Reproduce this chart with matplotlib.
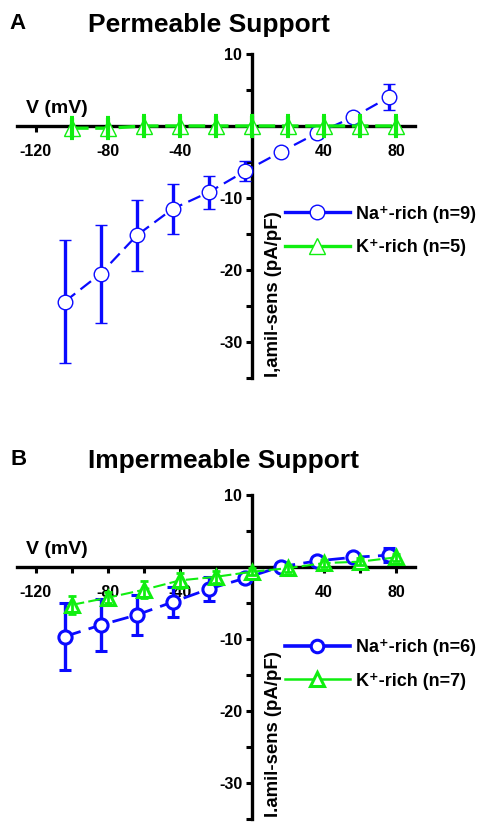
import matplotlib

matplotlib.use("Agg")
import matplotlib.pyplot as plt
from matplotlib.lines import Line2D
from matplotlib.ticker import FixedLocator, NullFormatter

plt.rcParams["font.family"] = ["Liberation Sans", "DejaVu Sans"]
plt.rcParams["font.weight"] = "bold"
plt.rcParams["axes.unicode_minus"] = False

BLUE = "#0a0aff"
GREEN = "#10ee10"

# voltages (Na+ points are drawn 4 mV left of the K+ points)
v_na = [-104, -84, -64, -44, -24, -4, 16, 36, 56, 76]
v_k = [-100, -80, -60, -40, -20, 0, 20, 40, 60, 80]

# panel A: permeable support
a_na = [-24.4, -20.5, -15.2, -11.5, -9.2, -6.3, -3.6, -1.0, 1.2, 4.0]
a_na_err = [8.5, 6.8, 4.9, 3.5, 2.3, 1.4, 0.6, 0.6, 0.6, 1.8]
a_k = [-0.3, -0.3, 0.0, 0.0, 0.0, 0.0, 0.0, 0.0, 0.0, 0.0]
a_k_err = [1.4, 1.4, 1.4, 1.4, 1.4, 1.4, 1.4, 1.4, 1.4, 1.4]

# panel B: impermeable support
b_na = [-9.7, -8.1, -6.7, -4.9, -3.1, -1.6, 0.0, 0.8, 1.3, 1.6]
b_na_err = [4.6, 3.6, 2.8, 2.1, 1.7, 0.5, 0.5, 0.5, 0.5, 1.0]
b_k = [-5.3, -4.3, -3.2, -1.9, -1.4, -0.7, -0.2, 0.5, 0.7, 1.3]
b_k_err = [1.3, 0.8, 1.2, 1.0, 0.8, 0.5, 0.5, 0.5, 0.5, 0.5]

fig = plt.figure(figsize=(4.89, 8.30), dpi=100)


def style_axes(ax, ylabel):
    ax.set_xlim(-130.5, 90.5)
    ax.set_ylim(-35, 10)
    for s in ("top", "right"):
        ax.spines[s].set_visible(False)
    ax.spines["left"].set_position(("data", 0))
    ax.spines["bottom"].set_position(("data", 0))
    for s in ("left", "bottom"):
        ax.spines[s].set_linewidth(2.4)
    ax.xaxis.set_major_locator(FixedLocator([-120, -80, -40, 40, 80]))
    ax.xaxis.set_minor_locator(FixedLocator([-100, -60, -20, 20, 60]))
    ax.yaxis.set_major_locator(FixedLocator([10, -10, -20, -30]))
    ax.yaxis.set_minor_locator(FixedLocator([5, -5, -15, -25, -35]))
    ax.xaxis.set_minor_formatter(NullFormatter())
    ax.yaxis.set_minor_formatter(NullFormatter())
    ax.tick_params(which="both", direction="out", width=2.2, length=4,
                   labelsize=11.5)
    ax.tick_params(axis="x", pad=9)
    ax.tick_params(axis="y", pad=3)
    for lab in ax.get_xticklabels() + ax.get_yticklabels():
        lab.set_fontweight("bold")
    ax.text(-125.5, 1.8, "V (mV)", fontsize=14, fontweight="bold",
            ha="left", va="baseline")
    ax.text(12.0, -23.3, ylabel, fontsize=13.4, fontweight="bold",
            rotation=90, ha="center", va="center")


def add_legend(ax, handles, labels, y):
    leg = ax.legend(handles, labels, loc="center left",
                    bbox_to_anchor=(0.673, y), frameon=False, fontsize=13,
                    handlelength=3.6, handletextpad=0.35, labelspacing=0.9,
                    borderaxespad=0, borderpad=0)
    for t in leg.get_texts():
        t.set_fontweight("bold")


# ---- panel A ----
axA = fig.add_axes([17 / 489, 1 - 378 / 830, 398 / 489, 324 / 830])
style_axes(axA, "I,amil-sens (pA/pF)")
axA.errorbar(v_na, a_na, yerr=a_na_err, color=BLUE, lw=1.6, ls=(0, (6, 3)),
             marker="o", ms=10.5, mfc="white", mec=BLUE, mew=1.0,
             ecolor=BLUE, elinewidth=2.4, capsize=4, capthick=2.4, zorder=3)
axA.plot(v_k, a_k, color=GREEN, lw=2.4, ls=(0, (5, 2)), marker="^", ms=11,
         mfc="white", mec=GREEN, mew=1.0, zorder=4)
axA.errorbar(v_k, a_k, yerr=a_k_err, fmt="none", ecolor=GREEN,
             elinewidth=3.0, capsize=1.5, capthick=3.0, zorder=5)
hA = [Line2D([], [], color=BLUE, lw=2.4, marker="o", ms=10.5, mfc="white",
             mec=BLUE, mew=1.0),
      Line2D([], [], color=GREEN, lw=2.4, marker="^", ms=11, mfc="white",
             mec=GREEN, mew=1.0)]
add_legend(axA, hA, ["Na⁺-rich (n=9)", "K⁺-rich (n=5)"], 0.454)
fig.text(9 / 489, 1 - 29 / 830, "A", fontsize=16, fontweight="bold",
         ha="left", va="baseline")
fig.text(88 / 489, 1 - 32 / 830, "Permeable Support", fontsize=19,
         fontweight="bold", ha="left", va="baseline")

# ---- panel B ----
axB = fig.add_axes([17 / 489, 1 - 818.7 / 830, 398 / 489, 324 / 830])
style_axes(axB, "I.amil-sens (pA/pF)")
axB.errorbar(v_na, b_na, yerr=b_na_err, color=BLUE, lw=2.0, ls=(0, (6, 3)),
             marker="o", ms=9.5, mfc="white", mec=BLUE, mew=2.2,
             ecolor=BLUE, elinewidth=2.4, capsize=4, capthick=2.4, zorder=3)
axB.plot(v_k, b_k, color=GREEN, lw=1.5, ls=(0, (6, 2)), marker="^", ms=10,
         mfc="white", mec=GREEN, mew=2.2, zorder=4)
axB.errorbar(v_k, b_k, yerr=b_k_err, fmt="none", ecolor=GREEN,
             elinewidth=2.0, capsize=3, capthick=2.0, zorder=5)
hB = [Line2D([], [], color=BLUE, lw=2.6, marker="o", ms=9, mfc="white",
             mec=BLUE, mew=2.2),
      Line2D([], [], color=GREEN, lw=1.8, marker="^", ms=10, mfc="white",
             mec=GREEN, mew=2.2)]
add_legend(axB, hB, ["Na⁺-rich (n=6)", "K⁺-rich (n=7)"], 0.476)
fig.text(11 / 489, 1 - 465 / 830, "B", fontsize=16, fontweight="bold",
         ha="left", va="baseline")
fig.text(88 / 489, 1 - 468 / 830, "Impermeable Support", fontsize=19,
         fontweight="bold", ha="left", va="baseline")

fig.savefig("out.png", dpi=100)
